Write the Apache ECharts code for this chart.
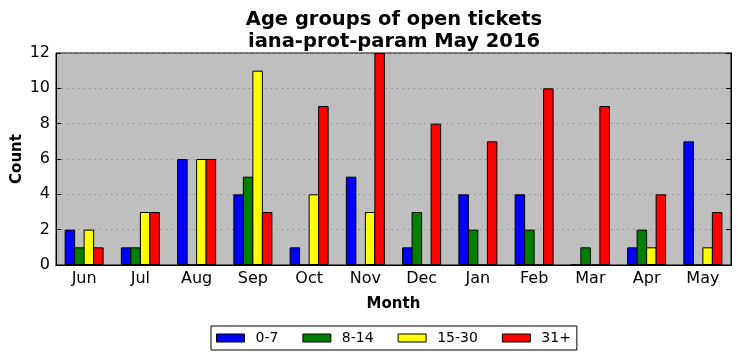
<!DOCTYPE html>
<html><head><meta charset="utf-8">
<script src="https://cdn.jsdelivr.net/npm/echarts@6/dist/echarts.min.js"></script>
<style>html,body{margin:0;padding:0;background:#fff}#c{width:740px;height:361px}</style>
</head><body><div id="c"></div>
<script>
const months = ['Jun','Jul','Aug','Sep','Oct','Nov','Dec','Jan','Feb','Mar','Apr','May'];
const seriesNames = ['0-7','8-14','15-30','31+'];
const s0_7   = [2,1,6,4,1,5,1,4,4,0,1,7];
const s8_14  = [1,1,0,5,0,0,3,2,2,1,2,0];
const s15_30 = [2,3,6,11,4,3,0,0,0,0,1,1];
const s31    = [1,3,6,3,9,12,8,7,10,9,4,3];
const yTicks = [0,2,4,6,8,10,12];
const colors = ['#0000ff','#008000','#ffff00','#ff0000'];
const values = [s0_7, s8_14, s15_30, s31];

const font = 'DejaVu Sans';
const chart = echarts.init(document.getElementById('c'));
chart.setOption({
  animation: false,
  textStyle: {fontFamily: font},
  title: {
    text: 'Age groups of open tickets\niana-prot-param May 2016',
    left: 389, top: 4, textAlign: 'center',
    textStyle: {fontFamily: font, fontSize: 19.5, fontWeight: 'bold', color: '#000', lineHeight: 22}
  },
  legend: {
    data: seriesNames.map(n => ({name: n, icon: 'rect'})),
    left: 211, top: 326,
    itemWidth: 28, itemHeight: 8, itemGap: 24,
    padding: [5, 6, 5, 5],
    borderColor: '#000', borderWidth: 1,
    textStyle: {fontFamily: font, fontSize: 14, color: '#000', padding: [0,0,0,6]},
    itemStyle: {borderColor: '#000', borderWidth: 1}
  },
  grid: {left: 56, top: 53, width: 675, height: 212, show: true, backgroundColor: '#bfbfbf',
    borderColor: '#000', borderWidth: 1, containLabel: false, outerBoundsMode: 'none'},
  xAxis: [{
    type: 'category', data: months, position: 'bottom',
    name: 'Month', nameLocation: 'middle', nameGap: 32, nameMoveOverlap: false,
    nameTextStyle: {fontFamily: font, fontSize: 15, fontWeight: 'bold', color: '#000'},
    axisLine: {lineStyle: {color: '#000'}},
    axisTick: {inside: true, alignWithLabel: true, length: 5, lineStyle: {color: '#000'}},
    axisLabel: {fontFamily: font, fontSize: 16, color: '#000', margin: 6}
  }, {
    type: 'category', data: months, position: 'top',
    axisLine: {lineStyle: {color: '#000'}},
    axisTick: {inside: true, alignWithLabel: true, length: 5, lineStyle: {color: '#000'}},
    axisLabel: {show: false}
  }],
  yAxis: [{
    type: 'value', min: 0, max: 12, interval: 2,
    name: 'Count', nameLocation: 'middle', nameGap: 31.5, nameMoveOverlap: false,
    nameTextStyle: {fontFamily: font, fontSize: 15, fontWeight: 'bold', color: '#000'},
    axisLine: {show: true, lineStyle: {color: '#000'}},
    axisTick: {show: true, inside: true, length: 5, lineStyle: {color: '#000'}},
    axisLabel: {fontFamily: font, fontSize: 16, color: '#000', margin: 6,
      formatter: v => yTicks.includes(v) ? String(v) : ''},
    splitLine: {show: true, lineStyle: {color: '#8a8a8a', type: [1.5,4], width: 1}}
  }, {
    type: 'value', min: 0, max: 12, interval: 2, position: 'right',
    axisLine: {show: true, lineStyle: {color: '#000'}},
    axisTick: {show: true, inside: true, length: 5, lineStyle: {color: '#000'}},
    axisLabel: {show: false}, splitLine: {show: false}
  }],
  series: seriesNames.map((n, i) => ({
    name: n, type: 'bar', data: values[i], xAxisIndex: 0, yAxisIndex: 0,
    barWidth: 10.5, barGap: '-9.52%',
    itemStyle: {color: colors[i], borderColor: '#000', borderWidth: 1}
  }))
});
</script></body></html>
